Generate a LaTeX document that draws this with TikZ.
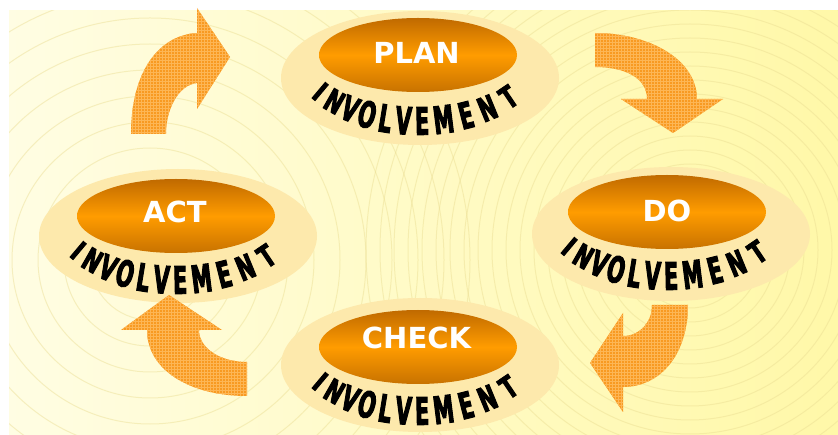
\documentclass[tikz,border=0pt]{standalone}
\usepackage{fontspec}
\usepackage{graphicx}
\newfontfamily\dvs{DejaVu Sans}
\newfontfamily\invfont{DejaVu Sans}[BoldFeatures={FakeBold=2.5,FakeStretch=0.54}]
\usetikzlibrary{shapes.geometric,calc,patterns}
\definecolor{bgL}{HTML}{FFFDE3}
\definecolor{bgR}{HTML}{FFF8A8}
\definecolor{ringc}{HTML}{EBDD92}
\definecolor{outerc}{HTML}{FDE9AC}
\definecolor{innerTop}{HTML}{C06A00}
\definecolor{innerMid}{HTML}{FF9C00}
\definecolor{innerBot}{HTML}{C87200}
\definecolor{arrowc}{HTML}{F89A22}
\definecolor{arrowl}{HTML}{FDB655}
\tikzset{
 outerell/.style={ellipse, fill=outerc, minimum width=278pt, minimum height=134pt, inner sep=0pt},
 innerell/.style={ellipse, top color=innerTop, bottom color=innerBot, middle color=innerMid, minimum width=198pt, minimum height=74pt, inner sep=0pt},
 lab/.style={text=white, font=\dvs\bfseries\fontsize{29}{30}\selectfont, inner sep=0pt},
 invletter/.style={text=black, font=\invfont\bfseries\fontsize{38}{40}\selectfont, inner sep=0pt},
 blockarrow/.style={fill=arrowc, postaction={pattern=grid, pattern color=arrowl}},
 ring/.style={draw=ringc, line width=1pt, opacity=0.45},
}
\newcommand\involvetext[3]{%
 \foreach \ch/\ang/\hs [count=\k] in {I/214/0.75,N/225/0.82,V/235/0.9,O/244.5/0.96,L/254/1,V/263/1,E/272/1,M/282.5/1,E/294/0.96,N/306/0.88,T/320/0.8}{%
  \pgfmathsetmacro\rot{atan2(67*cos(\ang),-118*sin(\ang))}%
  \node[invletter, rotate=\rot] (#1-\k) at ($(#2,#3)+(\ang:118pt and 67pt)$) {\scalebox{1}[\hs]{\ch}};
 }}
\begin{document}
\begin{tikzpicture}[x=1pt,y=1pt]
\useasboundingbox (0,0) rectangle (838,-435);
\fill[white] (0,0) rectangle (838,-435);
\shade[left color=bgL, right color=bgR] (9,-11) rectangle (838,-435);
\begin{scope}
\clip (9,-11) rectangle (838,-435);
\foreach \r in {30,44,...,330} \draw[ring] (690,-250) circle[radius=\r];
\foreach \r in {60,86,...,320} \draw[ring] (150,-260) circle[radius=\r];
\end{scope}
% outer rings
\node[outerell] (planO) at (420,-78) {};
\node[outerell] (doO) at (671,-234) {};
\node[outerell] (actO) at (178,-236) {};
\node[outerell] (checkO) at (420,-365) {};
% inner ellipses
\node[innerell] (planI) at (418,-55) {};
\node[innerell] (doI) at (667,-212) {};
\node[innerell] (actI) at (176,-216) {};
\node[innerell] (checkI) at (418,-347) {};
% labels
\node[lab] (planL) at (416.5,-52.5) {PLAN};
\node[lab] (doL) at (667,-211) {DO};
\node[lab] (actL) at (175,-211.5) {ACT};
\node[lab] (checkL) at (416.5,-338) {CHECK};
% involvement
\involvetext{planV}{418}{-54}
\involvetext{doV}{667}{-209}
\involvetext{actV}{176}{-213}
\involvetext{checkV}{418}{-344}
% arrows
\path[blockarrow] (131,-134) .. controls (131,-70) and (160,-35) .. (197,-33) -- (197,-8) -- (230,-57) -- (197,-109) -- (197,-83) .. controls (178,-85) and (166,-110) .. (166,-134) -- cycle;
\path[blockarrow] (595,-33) .. controls (650,-33) and (697,-60) .. (697,-99) -- (723,-99) -- (673,-133) -- (621,-99) -- (647,-99) .. controls (647,-78) and (625,-67) .. (595,-67) -- cycle;
\path[blockarrow] (688,-305) .. controls (688,-355) and (660,-387) .. (623,-387) -- (623,-412) -- (590,-363) -- (623,-313) -- (623,-336) .. controls (640,-336) and (652,-322) .. (652,-305) -- cycle;
\path[blockarrow] (247,-396) .. controls (190,-396) and (147,-370) .. (147,-330) -- (121,-330) -- (169,-295) -- (222,-330) -- (199,-330) .. controls (199,-348) and (220,-362) .. (247,-362) -- cycle;
\end{tikzpicture}
\end{document}
